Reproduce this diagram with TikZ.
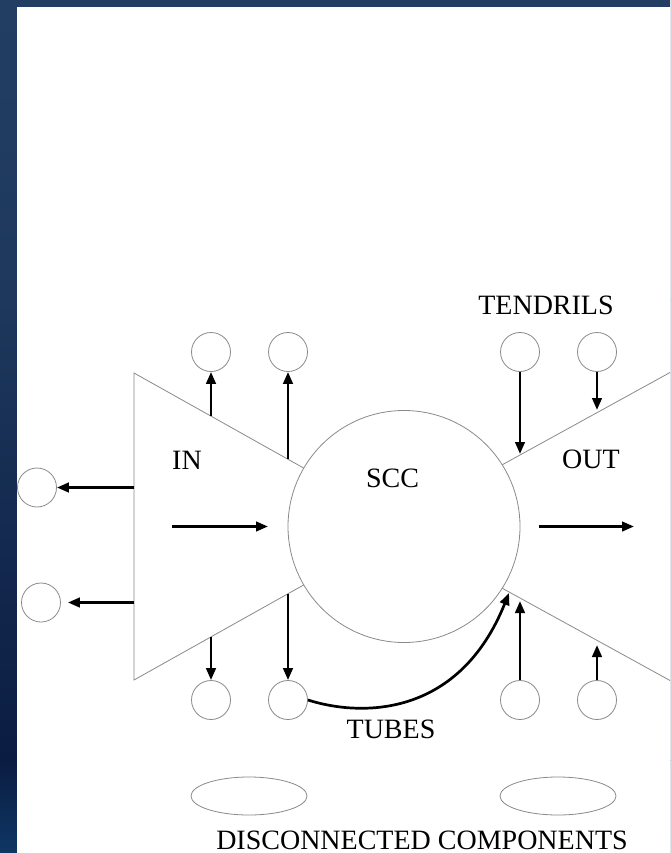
\documentclass[tikz,border=0pt]{standalone}
\usepackage{fontspec}
\setmainfont{Liberation Serif}
\usetikzlibrary{arrows.meta,shapes.geometric}
\definecolor{edgegray}{HTML}{8A8A8A}
\definecolor{navytop}{HTML}{223F63}
\definecolor{navymid}{HTML}{0B1C42}
\definecolor{navylow}{HTML}{0E3763}
\tikzset{
  comp/.style={circle, draw=edgegray, line width=0.8pt, minimum size=39pt, inner sep=0pt, fill=white},
  blob/.style={ellipse, draw=edgegray, line width=0.8pt, minimum width=116pt, minimum height=38pt, inner sep=0pt},
  region/.style={draw=edgegray, line width=0.8pt},
  flow/.style={line width=2.7pt, -{Triangle[length=12pt,width=9.5pt]}},
  lbl/.style={font=\fontsize{28}{32}\selectfont, inner sep=0pt},
}
\begin{document}
\begin{tikzpicture}[x=1pt,y=-1pt]
\useasboundingbox (0,0) rectangle (670,853);
\clip (0,0) rectangle (670,853);

% dark blue backdrop behind the sheet
\shade[top color=navytop, bottom color=navytop!80!navymid] (0,0) rectangle (670,300);
\shade[top color=navytop!80!navymid, bottom color=navymid] (0,300) rectangle (670,760);
\shade[top color=navymid, bottom color=navylow] (0,760) rectangle (670,853);
\fill[white] (17,7) rectangle (670,853);

% IN and OUT regions
\draw[region] (134,373) -- (408,526.5) -- (134,680) -- cycle;
\draw[region] (690,361.5) -- (390,526.5) -- (690,691.5);

% strongly connected core
\node[circle, draw=edgegray, line width=0.8pt, fill=white, minimum size=232pt, inner sep=0pt] (scc) at (404,526.5) {};

% tendrils, tubes and side components
\node[comp] (t1) at (211,352) {};
\node[comp] (t2) at (288,352) {};
\node[comp] (t3) at (520,352) {};
\node[comp] (t4) at (597,352) {};
\node[comp] (b1) at (211,700) {};
\node[comp] (b2) at (288,700) {};
\node[comp] (b3) at (520,700) {};
\node[comp] (b4) at (597,700) {};
\node[comp] (l1) at (37,487.5) {};
\node[comp] (l2) at (41,602.5) {};

% disconnected components
\node[blob] (d1) at (249,796) {};
\node[blob] (d2) at (558,796) {};

% labels
\node[lbl] (tendrils) at (546,305) {TENDRILS};
\node[lbl] (inlbl) at (187,460) {IN};
\node[lbl] (scclbl) at (392.5,478) {SCC};
\node[lbl] (outlbl) at (591,459) {OUT};
\node[lbl] (tubes) at (391,729) {TUBES};
\node[lbl] (discon) at (422,840.5) {DISCONNECTED COMPONENTS};

% points on the region borders
\coordinate (inA) at (172,526.5);
\coordinate (inB) at (268,526.5);
\coordinate (outA) at (539,526.5);
\coordinate (outB) at (634,526.5);
\coordinate (e1) at (134,487.5);
\coordinate (e2) at (134,602.5);
\coordinate (e3) at (211,416);
\coordinate (e4) at (288,459);
\coordinate (e5) at (211,637);
\coordinate (e6) at (288,594);
\coordinate (e7) at (520,454);
\coordinate (e8) at (597,410);
\coordinate (e9) at (520,601);
\coordinate (e10) at (597,645);
\coordinate (tubeend) at (509,593);

% flows
\draw[flow] (inA) -- (inB);
\draw[flow] (outA) -- (outB);
\draw[flow] (e1) -- (l1.east);
\draw[flow, shorten >=7pt] (e2) -- (l2.east);
\draw[flow] (e3) -- (t1.south);
\draw[flow] (e4) -- (t2.south);
\draw[flow] (e5) -- (b1.north);
\draw[flow] (e6) -- (b2.north);
\draw[flow] (t3.south) -- (e7);
\draw[flow] (t4.south) -- (e8);
\draw[flow] (b3.north) -- (e9);
\draw[flow] (b4.north) -- (e10);
\draw[flow] (b2.east) .. controls (365,718) and (460,715) .. (tubeend);
\end{tikzpicture}
\end{document}
